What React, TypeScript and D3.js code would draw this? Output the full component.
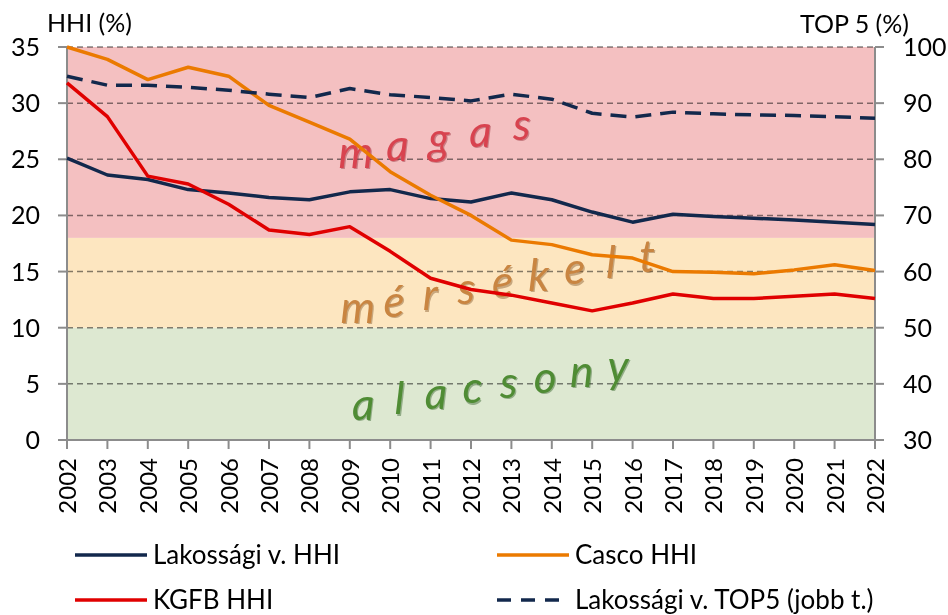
import React from "react";
import * as d3 from "d3";

const years = [
  "2002", "2003", "2004", "2005", "2006", "2007", "2008", "2009", "2010", "2011", "2012",
  "2013", "2014", "2015", "2016", "2017", "2018", "2019", "2020", "2021", "2022",
];

const lakossagiHHI = [25.1, 23.6, 23.2, 22.3, 22.0, 21.6, 21.4, 22.1, 22.3, 21.5, 21.2, 22.0, 21.4, 20.3, 19.4, 20.1, 19.9, 19.75, 19.6, 19.4, 19.2];
const cascoHHI = [35.0, 33.9, 32.1, 33.2, 32.4, 29.8, 28.3, 26.8, 23.9, 21.8, 20.0, 17.8, 17.4, 16.5, 16.2, 15.0, 14.95, 14.8, 15.15, 15.6, 15.1];
const kgfbHHI = [31.8, 28.8, 23.5, 22.8, 21.0, 18.7, 18.3, 19.0, 16.8, 14.4, 13.4, 12.9, 12.2, 11.5, 12.2, 13.0, 12.6, 12.6, 12.8, 13.0, 12.6];
const lakossagiTop5 = [94.8, 93.2, 93.2, 92.8, 92.3, 91.6, 91.0, 92.6, 91.5, 91.0, 90.4, 91.6, 90.7, 88.2, 87.5, 88.4, 88.1, 87.9, 87.8, 87.6, 87.3];

const leftTicks = [0, 5, 10, 15, 20, 25, 30, 35];
const rightTicks = [30, 40, 50, 60, 70, 80, 90, 100];

// concentration zones (left axis values)
const bands = [
  { from: 0, to: 10, color: "#dde8d1" },
  { from: 10, to: 18, color: "#fde6c0" },
  { from: 18, to: 35, color: "#f4c0c1" },
];

// zone labels, placed along a slanted baseline (index on x, left axis value on y)
const zoneWords = [
  { text: "magas", from: [7.15, 24.2], to: [11.26, 26.7], fill: "#d8434f", dark: "#8e1f2c" },
  { text: "mérsékelt", from: [7.2, 10.4], to: [14.36, 15.0], fill: "#c98541", dark: "#7a4a1a" },
  { text: "alacsony", from: [7.33, 1.8], to: [13.64, 5.2], fill: "#4f8c34", dark: "#25571a" },
];

const NAVY = "#12284c";
const ORANGE = "#eb7a00";
const RED = "#e00000";
const AXIS = "#8c8c8c";
const FONT = "Lato, 'Open Sans', sans-serif";

const W = 948;
const H = 615;
const left = 67;
const right = 875;
const top = 47;
const bottom = 440;

export default function App() {
  const x = d3.scalePoint<string>().domain(years).range([left, right]);
  const xi = d3.scaleLinear().domain([0, years.length - 1]).range([left, right]);
  const yL = d3.scaleLinear().domain([0, 35]).range([bottom, top]);
  const yR = d3.scaleLinear().domain([30, 100]).range([bottom, top]);

  const lineL = d3
    .line<number>()
    .x((_, i) => x(years[i]) as number)
    .y((d) => yL(d));
  const lineR = d3
    .line<number>()
    .x((_, i) => x(years[i]) as number)
    .y((d) => yR(d));

  const series = [
    { color: NAVY, path: lineL(lakossagiHHI), dash: undefined },
    { color: ORANGE, path: lineL(cascoHHI), dash: undefined },
    { color: RED, path: lineL(kgfbHHI), dash: undefined },
    { color: NAVY, path: lineR(lakossagiTop5), dash: "16,9" },
  ];

  const legend = [
    { label: "Lakossági v. HHI", color: NAVY, dash: undefined, lx: 75, ly: 555 },
    { label: "Casco HHI", color: ORANGE, dash: undefined, lx: 497, ly: 555 },
    { label: "KGFB HHI", color: RED, dash: undefined, lx: 75, ly: 600 },
    { label: "Lakossági v. TOP5 (jobb t.)", color: NAVY, dash: "14,10", lx: 497, ly: 600 },
  ];

  return (
    <svg
      width={W}
      height={H}
      style={{ position: "absolute", left: 0, top: 0, background: "#fff" }}
      fontFamily={FONT}
    >
      {/* zones */}
      {bands.map((b) => (
        <rect
          key={b.from}
          x={left}
          y={yL(b.to)}
          width={right - left}
          height={yL(b.from) - yL(b.to)}
          fill={b.color}
        />
      ))}

      {/* grid */}
      {leftTicks.map((t) => (
        <line
          key={"g" + t}
          x1={left}
          x2={right}
          y1={yL(t)}
          y2={yL(t)}
          stroke="#858585"
          strokeWidth={1.5}
          strokeDasharray="6,4"
          style={{ mixBlendMode: "multiply" }}
        />
      ))}

      {/* zone words */}
      {zoneWords.map((w) => {
        const letters = Array.from(w.text);
        const n = letters.length;
        return (
          <g key={w.text} fontStyle="italic" fontSize={44}>
            {letters.map((ch, i) => {
              const t = i / (n - 1);
              const px = xi(w.from[0] + (w.to[0] - w.from[0]) * t);
              const py = yL(w.from[1] + (w.to[1] - w.from[1]) * t);
              return (
                <g key={i}>
                  <text x={px + 1.2} y={py + 1.2} textAnchor="middle" fill={w.dark} opacity={0.4}>
                    {ch}
                  </text>
                  <text x={px} y={py} textAnchor="middle" fill={w.fill}>
                    {ch}
                  </text>
                </g>
              );
            })}
          </g>
        );
      })}

      {/* axes */}
      <line x1={left} x2={left} y1={top} y2={bottom} stroke={AXIS} strokeWidth={2} />
      <line x1={right} x2={right} y1={top} y2={bottom} stroke={AXIS} strokeWidth={2} />
      <line x1={left - 9} x2={right + 9} y1={bottom} y2={bottom} stroke={AXIS} strokeWidth={2} />

      {leftTicks.map((t) => (
        <g key={"l" + t}>
          <line x1={left - 9} x2={left} y1={yL(t)} y2={yL(t)} stroke={AXIS} strokeWidth={2} />
          <text x={40} y={yL(t)} dy="0.36em" textAnchor="end" fontSize={25} fill="#000">
            {t}
          </text>
        </g>
      ))}
      {rightTicks.map((t) => (
        <g key={"r" + t}>
          <line x1={right} x2={right + 9} y1={yR(t)} y2={yR(t)} stroke={AXIS} strokeWidth={2} />
          <text x={903} y={yR(t)} dy="0.36em" textAnchor="start" fontSize={25} fill="#000">
            {t}
          </text>
        </g>
      ))}
      {years.map((yr) => (
        <g key={yr}>
          <line x1={x(yr)} x2={x(yr)} y1={bottom} y2={bottom + 9} stroke={AXIS} strokeWidth={2} />
          <text
            transform={`translate(${(x(yr) as number) + 9},458) rotate(-90)`}
            textAnchor="end"
            fontSize={24}
            fill="#000"
          >
            {yr}
          </text>
        </g>
      ))}

      <text x={47} y={32} fontSize={25} fill="#000">
        HHI (%)
      </text>
      <text x={800} y={33} fontSize={25} fill="#000">
        TOP 5 (%)
      </text>

      {/* series */}
      {series.map((s, i) => (
        <path
          key={i}
          d={s.path || ""}
          fill="none"
          stroke={s.color}
          strokeWidth={3.5}
          strokeLinejoin="round"
          strokeDasharray={s.dash}
        />
      ))}

      {/* legend */}
      {legend.map((l) => (
        <g key={l.label}>
          <line
            x1={l.lx}
            x2={l.lx + 72}
            y1={l.ly}
            y2={l.ly}
            stroke={l.color}
            strokeWidth={3.5}
            strokeDasharray={l.dash}
          />
          <text x={l.lx + 78} y={l.ly} dy="0.36em" fontSize={26} fill="#000">
            {l.label}
          </text>
        </g>
      ))}
    </svg>
  );
}
